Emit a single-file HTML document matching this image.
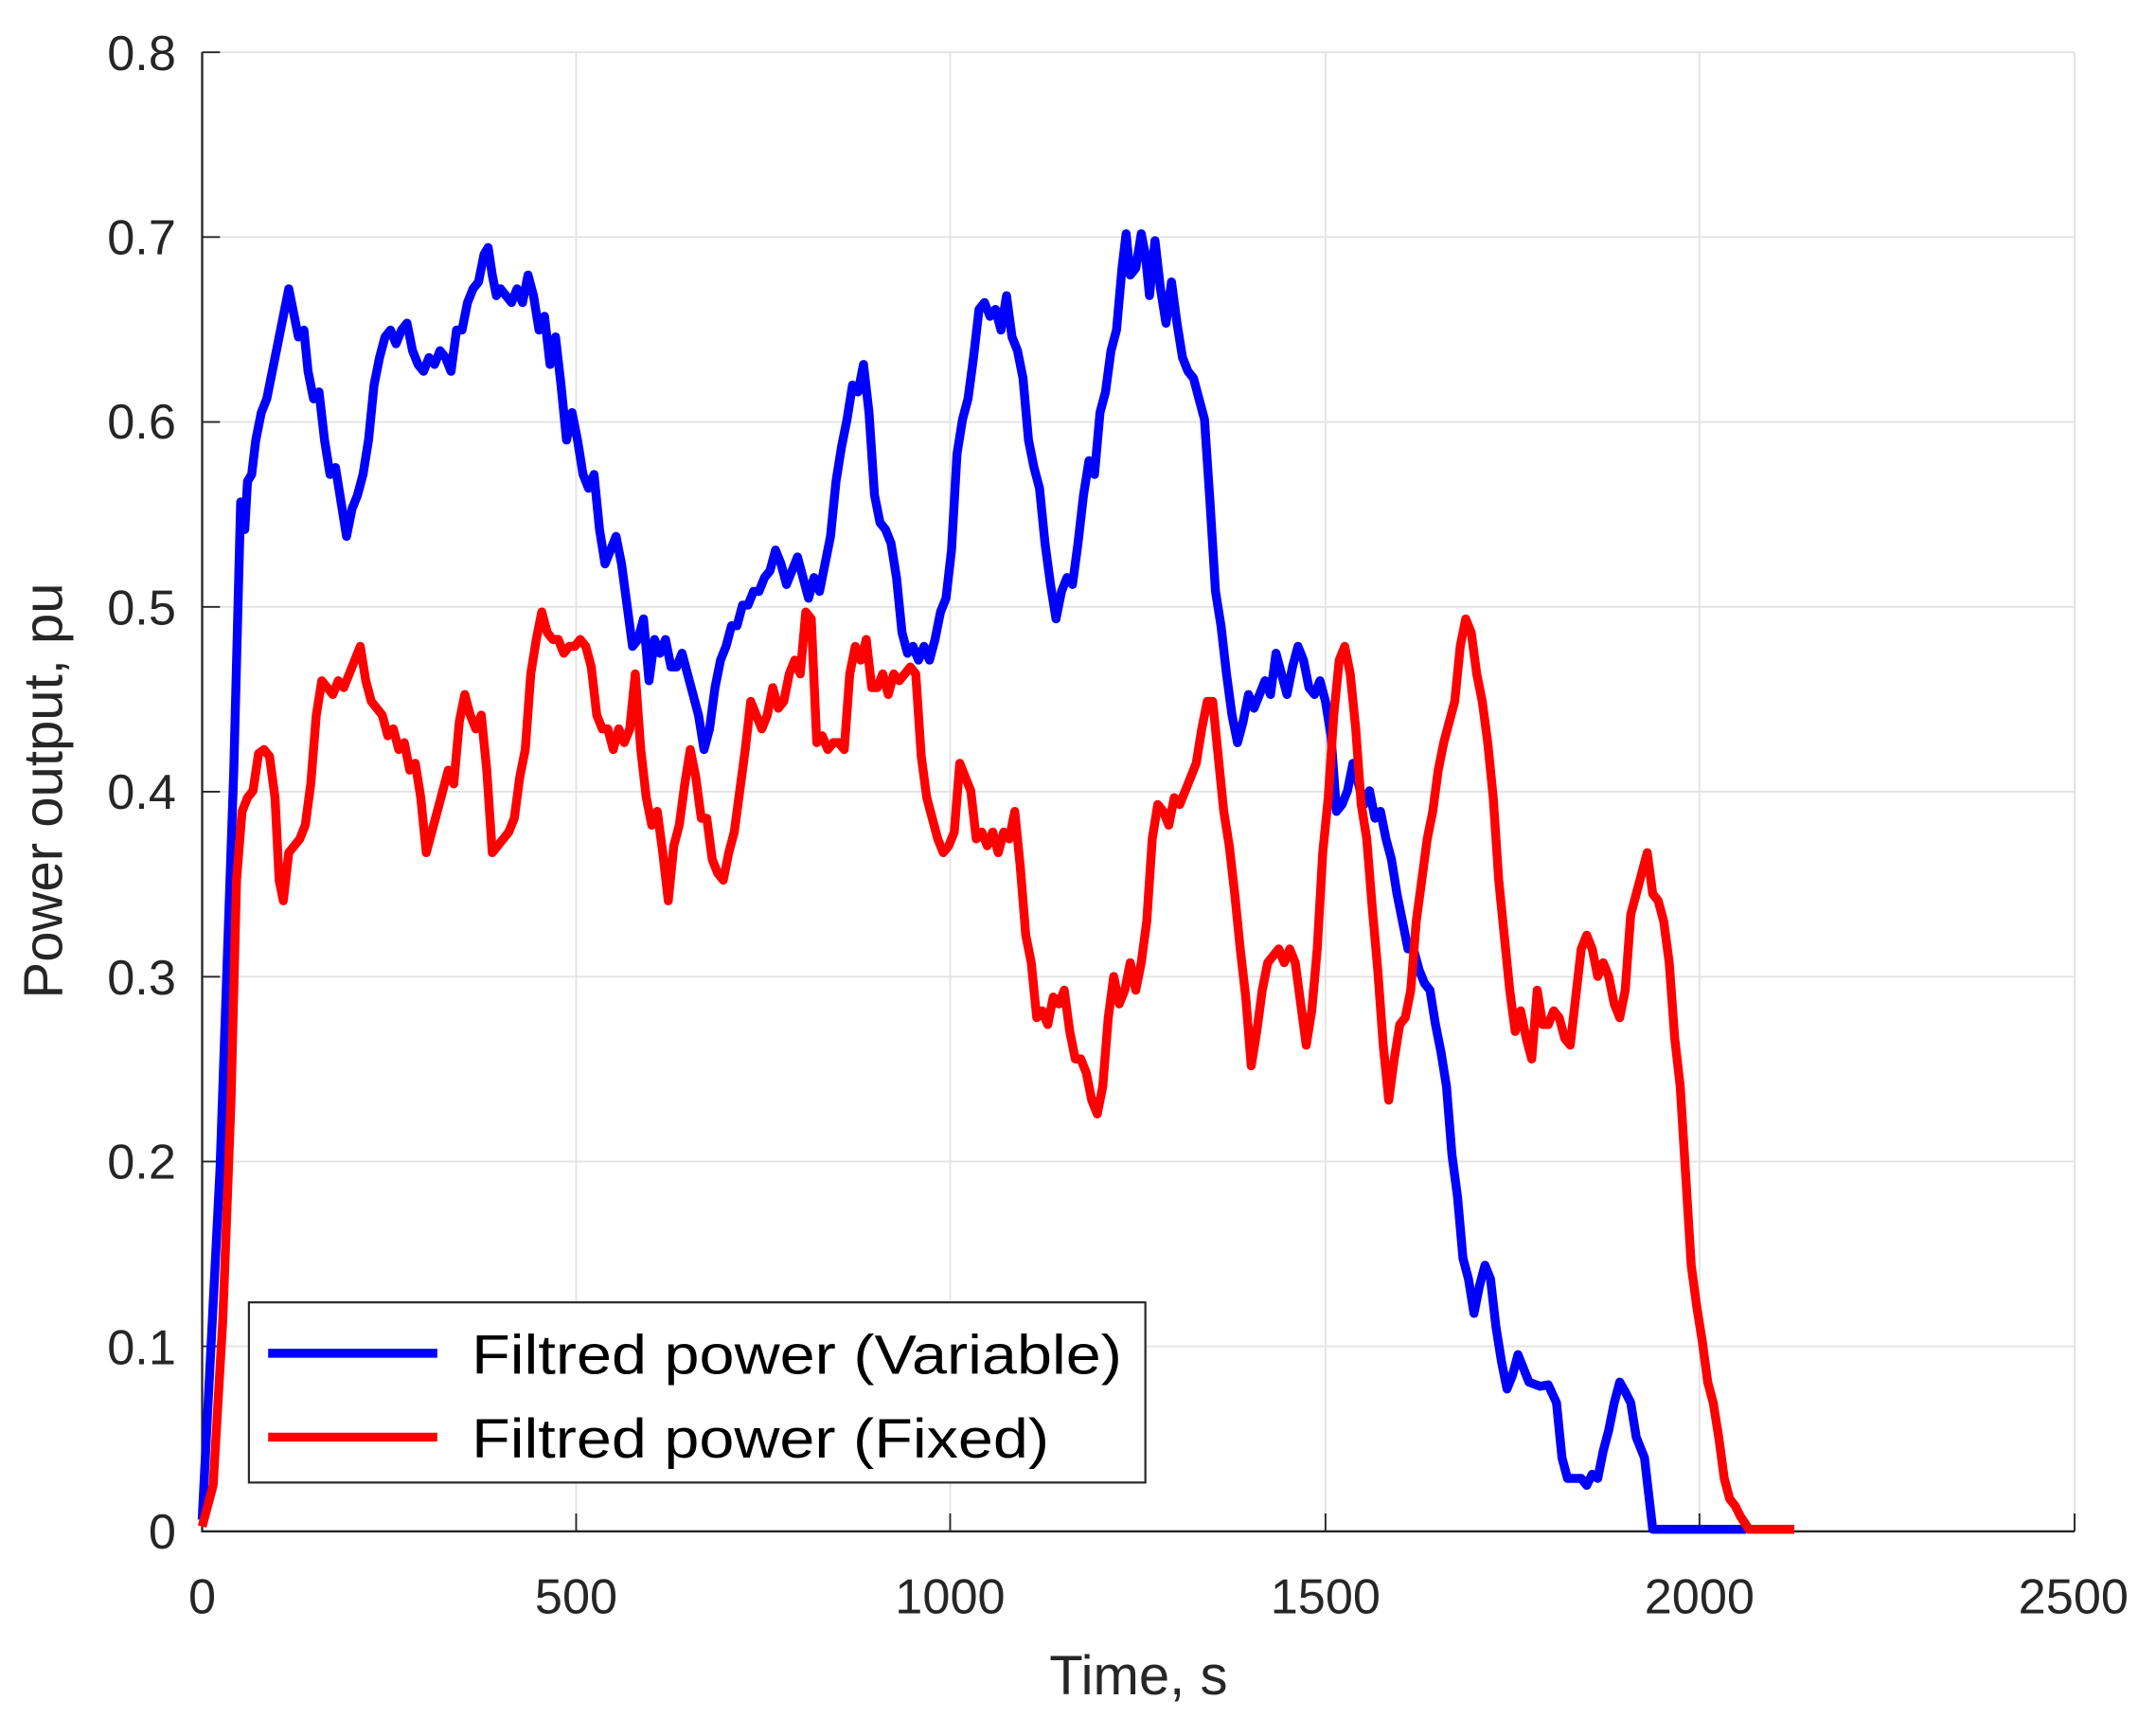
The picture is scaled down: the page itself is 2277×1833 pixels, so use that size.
<!DOCTYPE html>
<html><head><meta charset="utf-8"><style>html,body{margin:0;padding:0;background:#fff}svg{display:block}</style></head>
<body>
<svg width="2277" height="1833" viewBox="0 0 1568 1262.3" xmlns="http://www.w3.org/2000/svg" font-family="Liberation Sans, sans-serif">
<rect width="1568" height="1263" fill="#fff"/>
<g stroke="#e3e3e3" stroke-width="1.3" fill="none">
<path d="M419 38V1113.5M691 38V1113.5M964 38V1113.5M1236 38V1113.5M1508.8 38V1113.5"/>
<path d="M147 979H1508.8M147 844.6H1508.8M147 710.2H1508.8M147 575.7H1508.8M147 441.3H1508.8M147 306.8H1508.8M147 172.4H1508.8M147 38H1508.8"/>
</g>
<path d="M147 38V1113.5H1508.8" stroke="#262626" stroke-width="1.6" fill="none"/>
<g stroke="#262626" stroke-width="1.3">
<path d="M419 1113.5v-13M691 1113.5v-13M964 1113.5v-13M1236 1113.5v-13M1508.8 1113.5v-13"/>
<path d="M147 979h13M147 844.6h13M147 710.2h13M147 575.7h13M147 441.3h13M147 306.8h13M147 172.4h13M147 38h13"/>
</g>
<g fill="#262626" font-size="36" text-anchor="end">
<text x="128" y="1126">0</text><text x="128" y="992">0.1</text><text x="128" y="857">0.2</text><text x="128" y="723">0.3</text><text x="128" y="588">0.4</text><text x="128" y="454">0.5</text><text x="128" y="319">0.6</text><text x="128" y="185">0.7</text><text x="128" y="51">0.8</text>
</g>
<g fill="#262626" font-size="36" text-anchor="middle">
<text x="147" y="1173">0</text><text x="419" y="1173">500</text><text x="691" y="1173">1000</text><text x="964" y="1173">1500</text><text x="1236" y="1173">2000</text><text x="1508" y="1173">2500</text>
<text x="828" y="1232" font-size="40">Time, s</text>
<text transform="translate(45,575) rotate(-90)" font-size="40">Power output, pu</text>
</g>
<polyline fill="none" stroke="#0000ff" stroke-width="6.5" stroke-linejoin="round" points="147,1105 160,850 170,560 175,365 178,385 180,350 183,345 186,320 190,300 194,290 198,270 202,250 206,230 210,210 213,225 217,245 221,240 224,270 228,290 232,285 236,320 240,345 244,340 248,365 252,390 256,370 260,360 264,345 268,320 272,280 276,260 280,245 284,240 288,250 292,240 296,235 300,255 304,265 308,270 312,260 316,265 320,255 324,260 328,270 332,240 336,240 340,220 344,210 348,205 352,185 355,180 358,200 361,215 364,210 368,215 372,220 376,210 380,220 384,200 388,215 392,240 396,230 400,265 404,245 408,280 412,320 416,300 420,320 424,345 428,355 432,345 436,385 440,410 444,400 448,390 452,410 456,440 460,470 464,465 468,450 472,495 476,465 480,475 484,465 488,485 492,485 496,475 500,490 504,505 508,520 512,545 516,530 520,500 524,480 528,470 532,455 536,455 540,440 544,440 548,430 552,430 556,420 560,415 564,400 568,410 572,425 576,415 580,405 584,420 588,435 592,420 596,430 600,410 604,390 608,350 612,325 616,305 620,280 624,285 628,265 632,300 636,360 640,380 644,385 648,395 652,420 656,460 660,475 664,470 668,480 672,470 676,480 680,465 684,445 688,435 692,400 696,330 700,305 704,290 708,260 712,225 716,220 720,230 724,225 728,240 732,215 736,245 740,255 744,275 748,320 752,340 756,355 760,395 764,425 768,450 772,430 776,420 780,425 784,395 788,360 792,335 796,345 800,300 804,285 808,255 812,240 816,195 819,170 822,200 826,195 830,170 833,185 836,215 840,175 844,210 848,235 852,205 856,235 860,260 864,270 868,275 872,290 876,305 880,365 884,430 888,455 892,490 896,520 900,540 904,525 908,505 912,515 916,505 920,495 924,505 928,475 932,490 936,505 940,485 944,470 948,480 952,500 956,505 960,495 964,510 968,535 972,590 976,585 980,575 984,555 988,570 992,585 996,575 1000,595 1004,590 1008,610 1012,625 1016,650 1020,670 1024,690 1028,690 1032,705 1036,715 1040,720 1044,745 1048,765 1052,790 1056,840 1060,870 1064,915 1068,930 1072,955 1076,935 1080,920 1084,930 1088,965 1092,990 1096,1010 1100,1000 1104,985 1108,995 1112,1005 1120,1008 1126,1007 1132,1020 1136,1060 1140,1075 1150,1075 1154,1080 1158,1072 1162,1075 1166,1055 1170,1040 1174,1020 1178,1005 1182,1012 1186,1020 1190,1045 1196,1060 1202,1112 1270,1112"/>
<polyline fill="none" stroke="#ff0000" stroke-width="6.5" stroke-linejoin="round" points="147,1110 155,1080 162,960 168,800 172,640 176,590 180,580 184,575 188,548 192,545 196,550 200,580 203,640 206,655 210,620 214,615 218,610 222,600 226,570 230,520 234,495 238,500 242,505 246,495 250,500 254,490 258,480 262,470 266,495 270,510 274,515 278,520 282,535 286,530 290,545 294,540 298,560 302,555 306,580 310,620 314,605 318,590 322,575 326,560 330,570 334,525 338,505 342,520 346,530 350,520 354,560 358,620 362,615 366,610 370,605 374,595 378,565 382,545 386,490 390,465 394,445 398,460 402,465 406,465 410,475 414,470 418,470 422,465 426,470 430,485 434,520 438,530 442,530 446,545 450,530 454,540 458,530 462,490 466,545 470,580 474,600 478,590 482,620 486,655 490,615 494,600 498,570 502,545 506,565 510,595 514,595 518,625 522,635 526,640 530,620 534,605 538,575 542,545 546,510 550,520 554,530 558,520 562,500 566,515 570,510 574,490 578,480 582,490 586,445 590,450 594,540 598,535 602,545 606,540 610,540 614,545 618,490 622,470 626,480 630,465 634,500 638,500 642,490 646,505 650,490 654,495 658,490 662,485 666,490 670,550 674,580 678,595 682,610 686,620 690,615 694,605 698,555 702,565 706,575 710,610 714,605 718,615 722,605 726,620 730,605 734,610 738,590 742,630 746,680 750,700 754,740 758,735 762,745 766,725 770,730 774,720 778,750 782,770 786,770 790,780 794,800 798,810 802,790 806,740 810,710 814,730 818,720 822,700 826,720 830,700 834,670 838,610 842,585 846,590 850,600 854,580 858,585 862,575 866,565 870,555 874,530 878,510 882,510 886,550 890,590 894,615 898,650 902,690 906,725 910,775 914,750 918,720 922,700 926,695 930,690 934,700 938,690 942,700 946,730 950,760 954,735 958,690 962,620 966,580 970,520 974,480 978,470 982,490 986,530 990,585 994,610 998,660 1002,705 1006,760 1010,800 1014,770 1018,745 1022,740 1026,720 1030,670 1034,640 1038,610 1042,590 1046,560 1050,540 1054,525 1058,510 1062,470 1066,450 1070,460 1074,490 1078,510 1082,540 1086,580 1090,640 1094,680 1098,720 1102,750 1106,735 1110,755 1114,770 1118,720 1122,745 1126,745 1130,735 1134,740 1138,755 1142,760 1146,725 1150,690 1154,680 1158,690 1162,710 1166,700 1170,710 1174,730 1178,740 1182,720 1186,665 1190,650 1194,635 1198,620 1202,650 1206,655 1210,670 1214,700 1218,755 1222,790 1226,855 1230,920 1234,950 1238,975 1242,1005 1246,1020 1250,1045 1254,1075 1258,1090 1262,1095 1266,1103 1272,1112 1305,1112"/>
<rect x="181" y="947" width="652" height="131" fill="#fff" stroke="#262626" stroke-width="1.5"/>
<path d="M195 984H318" stroke="#0000ff" stroke-width="6.5"/>
<path d="M195 1045H318" stroke="#ff0000" stroke-width="6.5"/>
<g font-size="40" fill="#000">
<text x="343" y="999" textLength="473" lengthAdjust="spacingAndGlyphs">Filtred power (Variable)</text>
<text x="343" y="1060" textLength="420" lengthAdjust="spacingAndGlyphs">Filtred power (Fixed)</text>
</g>
</svg>
</body></html>
